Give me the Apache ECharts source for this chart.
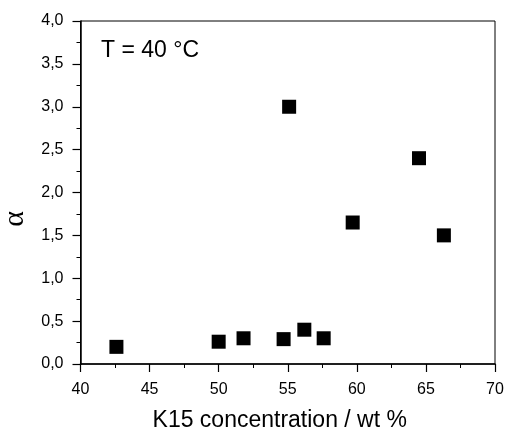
<!DOCTYPE html>
<html><head><meta charset="utf-8">
<script src="https://cdn.jsdelivr.net/npm/echarts@6/dist/echarts.min.js"></script>
<style>html,body{margin:0;padding:0;background:#fff}#c{width:505px;height:433px}</style>
</head><body><div id="c"></div>
<script>
const concentration = [42.6, 50.0, 51.8, 54.7, 55.1, 56.2, 57.6, 59.7, 64.5, 66.3];
const alphaValues = [0.20, 0.26, 0.30, 0.29, 3.00, 0.40, 0.30, 1.65, 2.40, 1.50];
const xTicks = [40, 45, 50, 55, 60, 65, 70];
const yTicks = [0, 0.5, 1, 1.5, 2, 2.5, 3, 3.5, 4];
const annotation = 'T = 40 °C';
const xName = 'K15 concentration / wt %';
const yName = 'α';

const font = '"Liberation Sans", Arial, sans-serif';
const chart = echarts.init(document.getElementById('c'), null, {renderer: 'canvas'});
const fmt = v => v.toFixed(1).replace('.', ',');
chart.setOption({
  animation: false,
  backgroundColor: '#fff',
  grid: {left: 80.5, right: 10, top: 21, bottom: 69, show: true, borderColor: '#000', borderWidth: 1,
         containLabel: false, outerBoundsMode: 'none'},
  graphic: [{
    type: 'text', x: 101, y: 50.5,
    style: {text: annotation, font: '23px "Liberation Sans", Arial, sans-serif', fill: '#000',
            align: 'left', verticalAlign: 'middle'}
  }],
  xAxis: {
    type: 'value', min: xTicks[0], max: xTicks[xTicks.length - 1], interval: 5,
    name: xName, nameLocation: 'middle', nameGap: 45,
    nameTextStyle: {fontFamily: font, fontSize: 23, color: '#000', padding: [0, 16, 0, 0]},
    axisLine: {show: true, onZero: false, lineStyle: {color: '#000', width: 1.5}},
    axisTick: {show: true, inside: false, length: 8, lineStyle: {color: '#000', width: 1.2}},
    minorTick: {show: true, splitNumber: 2, length: 4, lineStyle: {color: '#000', width: 1}},
    splitLine: {show: false},
    axisLabel: {fontFamily: font, fontSize: 16, color: '#000', margin: 18, formatter: v => String(v)}
  },
  yAxis: {
    type: 'value', min: yTicks[0], max: yTicks[yTicks.length - 1], interval: 0.5,
    name: yName, nameLocation: 'middle', nameRotate: 90, nameGap: 44,
    nameTextStyle: {fontFamily: '"Liberation Serif", serif', fontSize: 30, color: '#000', padding: [0, 53, 0, 0]},
    axisLine: {show: true, onZero: false, lineStyle: {color: '#000', width: 1.5}},
    axisTick: {show: true, inside: false, length: 8, lineStyle: {color: '#000', width: 1.2}},
    minorTick: {show: true, splitNumber: 2, length: 4, lineStyle: {color: '#000', width: 1}},
    splitLine: {show: false},
    axisLabel: {fontFamily: font, fontSize: 16, color: '#000', margin: 17, formatter: fmt}
  },
  series: [{
    type: 'scatter', symbol: 'rect', symbolSize: 14,
    itemStyle: {color: '#000', opacity: 1},
    data: concentration.map((x, i) => [x, alphaValues[i]])
  }]
});
</script></body></html>
